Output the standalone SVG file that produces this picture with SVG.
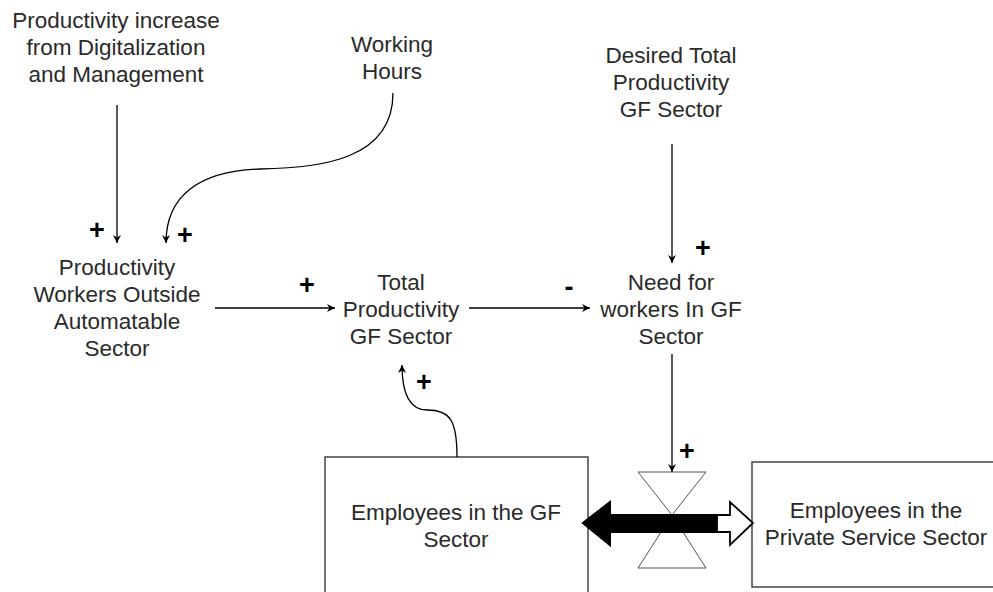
<svg xmlns="http://www.w3.org/2000/svg" width="993" height="592" viewBox="0 0 993 592">
<defs>
<marker id="ah" viewBox="0 0 10 10" refX="10" refY="5" markerWidth="8" markerHeight="8" markerUnits="userSpaceOnUse" orient="auto">
<path d="M0,0 L10,5 L0,10 L3,5 Z" fill="#000"/>
</marker>
<style>
.t{font-family:"Liberation Sans",Arial,sans-serif;font-size:22.5px;fill:#2a2a2a;text-anchor:middle}
.s{font-family:"Liberation Sans",Arial,sans-serif;font-size:27px;font-weight:bold;fill:#000;text-anchor:middle}
.c{fill:none;stroke:#000;stroke-width:1.3;marker-end:url(#ah)}
.box{fill:#fff;stroke:#444;stroke-width:1.5}
</style>
</defs>
<rect width="993" height="592" fill="#fff"/>
<g id="n-prodinc">
<text class="t" x="116" y="28">Productivity increase</text>
<text class="t" x="116" y="55">from Digitalization</text>
<text class="t" x="116" y="82">and Management</text>
</g>
<g id="n-working">
<text class="t" x="392" y="52">Working</text>
<text class="t" x="392" y="79">Hours</text>
</g>
<g id="n-desired">
<text class="t" x="671" y="63">Desired Total</text>
<text class="t" x="671" y="90">Productivity</text>
<text class="t" x="671" y="117">GF Sector</text>
</g>
<g id="n-pwoa">
<text class="t" x="117" y="275">Productivity</text>
<text class="t" x="117" y="302">Workers Outside</text>
<text class="t" x="117" y="329">Automatable</text>
<text class="t" x="117" y="356">Sector</text>
</g>
<g id="n-total">
<text class="t" x="401" y="290">Total</text>
<text class="t" x="401" y="317">Productivity</text>
<text class="t" x="401" y="344">GF Sector</text>
</g>
<g id="n-need">
<text class="t" x="671" y="290">Need for</text>
<text class="t" x="671" y="317">workers In GF</text>
<text class="t" x="671" y="344">Sector</text>
</g>
<g id="n-gf">
<rect class="box" x="325" y="457" width="263" height="145"/>
<text class="t" x="456" y="520">Employees in the GF</text>
<text class="t" x="456" y="547">Sector</text>
</g>
<g id="n-private">
<rect class="box" x="752" y="462" width="250" height="125"/>
<text class="t" x="876" y="518">Employees in the</text>
<text class="t" x="876" y="545">Private Service Sector</text>
</g>
<g id="n-valve">
<polygon points="638,472 706,472 672,515" fill="#fff" stroke="#555" stroke-width="1"/>
<polygon points="638,568 706,568 672,515" fill="#fff" stroke="#555" stroke-width="1"/>
<polygon points="583,523 610,502 610,515 730,515 730,502 753,523 730,545 730,532 610,532 610,545" fill="#fff" stroke="#000" stroke-width="1.8" stroke-linejoin="miter"/>
<polygon points="583,523 610,502 610,515 717,515 717,532 610,532 610,545" fill="#000" stroke="#000" stroke-width="1.8"/>
</g>
<g id="connectors">
<path class="c" d="M117,105 L117,243"/>
<path class="c" d="M393,93 C393,160 320,168 260,169 C200,171 166,195 166,243"/>
<path class="c" d="M215,308 L335,308"/>
<path class="c" d="M469,308 L590,308"/>
<path class="c" d="M672,144 L672,263"/>
<path class="c" d="M672,354 L672,472"/>
<path class="c" d="M457,457 C457,420 450,410 427,410 C410,410 402,395 402,365"/>
</g>
<g id="labels">
<text class="s" x="97" y="239">+</text>
<text class="s" x="185" y="244">+</text>
<text class="s" x="307" y="294">+</text>
<text class="s" x="569" y="296">-</text>
<text class="s" x="703" y="257">+</text>
<text class="s" x="424" y="391">+</text>
<text class="s" x="687" y="460">+</text>
</g>
</svg>
